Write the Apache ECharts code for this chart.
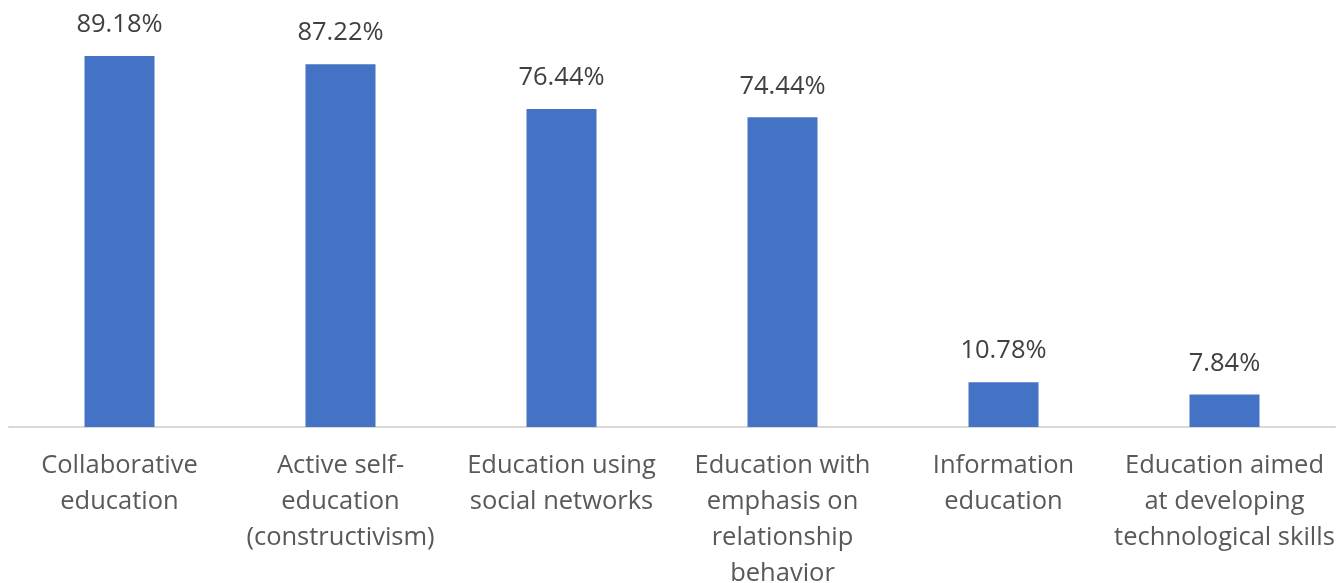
<!DOCTYPE html>
<html><head><meta charset="utf-8">
<script src="https://cdn.jsdelivr.net/npm/echarts@6/dist/echarts.min.js"></script>
<style>html,body{margin:0;padding:0;background:#fff}#c{width:1337px;height:583px}</style>
</head><body><div id="c"></div>
<script>
const categories = [
  "Collaborative\neducation",
  "Active self-\neducation\n(constructivism)",
  "Education using\nsocial networks",
  "Education with\nemphasis on\nrelationship\nbehavior",
  "Information\neducation",
  "Education aimed\nat developing\ntechnological skills"
];
const values = [89.18, 87.22, 76.44, 74.44, 10.78, 7.84];

const chart = echarts.init(document.getElementById('c'));
chart.setOption({
  animation: false,
  grid: {left: 9, right: 2, top: 11, bottom: 156, containLabel: false, outerBoundsMode: 'none'},
  xAxis: {
    type: 'category', data: categories,
    axisLine: {lineStyle: {color: '#d9d9d9', width: 2}},
    axisTick: {show: false},
    axisLabel: {color: '#595959', fontSize: 25.5, fontFamily: 'Open Sans', lineHeight: 35.8, margin: 21, interval: 0}
  },
  yAxis: {type: 'value', min: 0, max: 100, show: false, splitLine: {show: false}},
  series: [{
    type: 'bar', data: values, barWidth: 70,
    itemStyle: {color: '#4472c4'},
    label: {show: true, position: 'top', distance: 18, color: '#404040', fontSize: 25.5, fontFamily: 'Open Sans',
      formatter: p => p.value.toFixed(2) + '%'}
  }]
});
</script></body></html>
